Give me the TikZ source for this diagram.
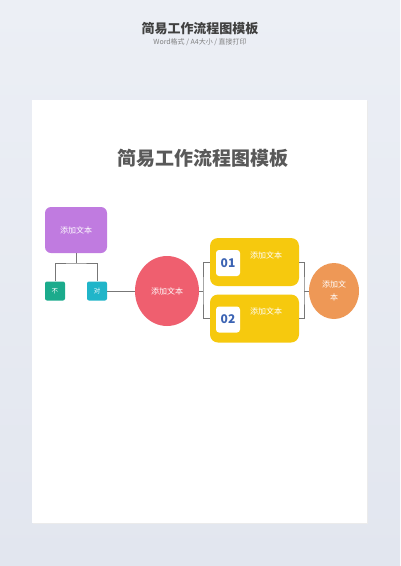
\documentclass[tikz,border=0pt]{standalone}
\usepackage{fontspec}
\setmainfont{Noto Sans CJK SC}
\newfontfamily\cjk{Noto Sans CJK SC}
\usepackage{tikz}
\usetikzlibrary{shapes,calc}
\definecolor{lilac}{HTML}{C07BE0}
\definecolor{jade}{HTML}{1BAB8C}
\definecolor{teal}{HTML}{20B5C9}
\definecolor{coral}{HTML}{EF5F6F}
\definecolor{amber}{HTML}{F6C90E}
\definecolor{peach}{HTML}{EE9856}
\definecolor{ink}{HTML}{3B63B3}
\definecolor{wire}{HTML}{777777}
\definecolor{bgtop}{HTML}{ECEFF5}
\definecolor{bgbot}{HTML}{E2E6EF}
\tikzstyle{box}=[rectangle,rounded corners=6pt,text=white,font=\cjk\fontsize{8}{9}\selectfont,inner sep=0pt]
\tikzstyle{tag}=[rectangle,rounded corners=2pt,text=white,font=\cjk\fontsize{6.5}{7}\selectfont,minimum width=20pt,minimum height=19pt,inner sep=0pt]
\tikzstyle{bubble}=[ellipse,text=white,font=\cjk\fontsize{8}{9}\selectfont,inner sep=0pt,align=center]
\tikzstyle{numbox}=[rectangle,rounded corners=3pt,fill=white,text=ink,font=\bfseries\fontsize{12}{12}\selectfont,minimum width=24pt,minimum height=26pt,inner sep=0pt]
\tikzstyle{wireline} = [draw,wire,line width=0.8pt]
\begin{document}
\begin{tikzpicture}[x=1pt,y=-1pt]
    \useasboundingbox (0,0) rectangle (400,566);
    \shade[top color=bgtop,bottom color=bgbot] (0,0) rectangle (400,566);

    % headline
    \node[text=black!75,font=\bfseries\fontsize{13}{13}\selectfont] (head) at (200,29) {简易工作流程图模板};
    \node[text=black!50,font=\fontsize{7}{7}\selectfont] (sub) at (200,42) {Word格式 / A4大小 / 直接打印};

    % page
    \fill[black!8] (33,101) rectangle (368,524);
    \fill[white] (32,100) rectangle (367,523);
    \node[text=black!65,font=\bfseries\fontsize{19}{19}\selectfont] (title) at (203,158) {简易工作流程图模板};

    % left part
    \node[box,fill=lilac,minimum width=62pt,minimum height=46pt] (start) at (76,230) {添加文本};
    \foreach \pos/\name/\col/\txt in {{(55,291)/no/jade/不},{(97,291)/yes/teal/对}}
        \node[tag,fill=\col] (\name) at \pos {\txt};
    \node[bubble,fill=coral,minimum width=64pt,minimum height=70pt] (mid) at (167,291) {添加文本};

    % yellow boxes
    \foreach \y/\name/\num in {262/one/01, 318.5/two/02}{
        \node[box,fill=amber,rounded corners=8pt,minimum width=89pt,minimum height=48pt] (\name) at (254.5,\y) {};
        \node[numbox] (\name num) at (228,\y+1) {\num};
        \node[text=white,font=\cjk\fontsize{8}{9}\selectfont] (\name txt) at (266,\y-7) {添加文本};
    }
    \node[bubble,fill=peach,minimum width=50pt,minimum height=56pt] (end) at (334,291) {添加文\\[4pt]本};

    % connectors
    \coordinate (fork) at (76,263);
    \coordinate (split) at (203,291);
    \coordinate (join) at (304,291);
    \path[wireline] (start.south) -- (fork);
    \path[wireline] (no.north) |- (fork) -| (yes.north);
    \path[wireline] (yes) -- (mid);
    \path[wireline] (mid) -- (split);
    \path[wireline] (one.west) -| (split) |- (two.west);
    \path[wireline] (one.east) -| (join) |- (two.east);
    \path[wireline] (join) -- (end);
\end{tikzpicture}
\end{document}
